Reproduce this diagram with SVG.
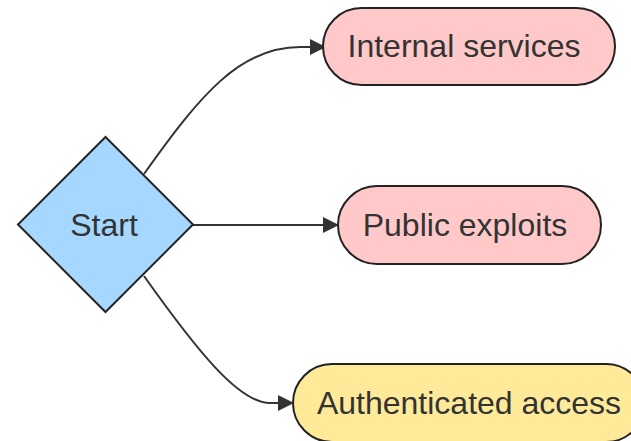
<svg xmlns="http://www.w3.org/2000/svg" width="631" height="441" viewBox="0 0 631 441">
  <style>
    .node-shape { stroke: #222222; stroke-width: 2; }
    .decision { fill: #a6d8ff; }
    .risk { fill: #ffc9c9; }
    .auth { fill: #ffea99; }
    .label { font-family: "Liberation Sans", Arial, sans-serif; font-size: 32px; fill: #333333; text-anchor: middle; dominant-baseline: central; }
    .edge { fill: none; stroke: #333333; stroke-width: 2; }
    .arrowhead { fill: #333333; }
  </style>

  <rect width="631" height="441" fill="#ffffff"/>

  <g id="connectors">
    <path class="edge" d="M144,174 C200,95 240,47 300,47 L310,47"/>
    <polygon class="arrowhead" points="310,39 326,47 310,55"/>
    <path class="edge" d="M193,225 L323,225"/>
    <polygon class="arrowhead" points="323,217 339,225 323,233"/>
    <path class="edge" d="M144,276 C200,355 240,403 270,403 L278,403"/>
    <polygon class="arrowhead" points="278,395 294,403 278,411"/>
  </g>

  <g id="start">
    <polygon class="node-shape decision" points="105.5,137 193,224.5 105.5,312 18,224.5"/>
    <text class="label" x="104" y="224.5">Start</text>
  </g>

  <g id="internal-services">
    <rect class="node-shape risk" x="323" y="8" width="292" height="77" rx="38.5" ry="38.5"/>
    <text class="label" x="464" y="46">Internal services</text>
  </g>

  <g id="public-exploits">
    <rect class="node-shape risk" x="338" y="186" width="263" height="78" rx="39" ry="39"/>
    <text class="label" x="465" y="224.5">Public exploits</text>
  </g>

  <g id="authenticated-access">
    <rect class="node-shape auth" x="293" y="364" width="352" height="78" rx="39" ry="39"/>
    <text class="label" x="469" y="402.5">Authenticated access</text>
  </g>
</svg>
